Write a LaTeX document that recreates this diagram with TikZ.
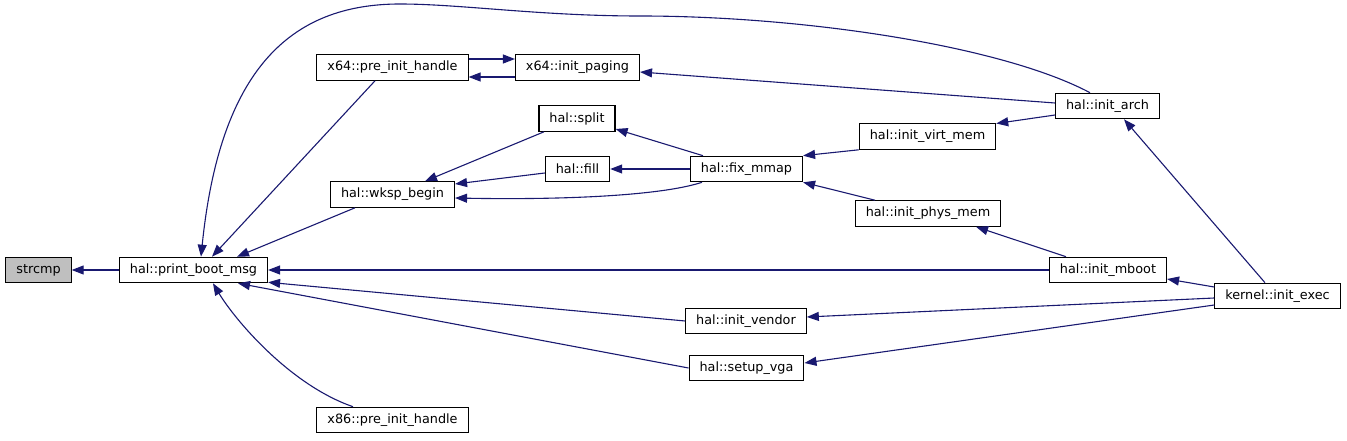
\documentclass[tikz,border=0pt]{standalone}
\usepackage{fontspec}
\setmainfont{DejaVu Sans}
\usepackage{tikz}
\usetikzlibrary{arrows.meta}
\definecolor{edge}{HTML}{191970}
\definecolor{cgray}{HTML}{BFBFBF}

\begin{document}
\begin{tikzpicture}[x=1pt, y=-1pt, font=\fontsize{12.8}{15}\selectfont,
          fn/.style={draw=black, fill=white, line width=1.1pt, inner xsep=10.5pt,
                     inner ysep=0pt, minimum height=25.5pt},
          e/.style={edge, line width=1.1pt, -{Triangle[length=12pt, width=9pt]}}]
        \useasboundingbox (0,0) rectangle (1347,441);
        \node[fn, fill=cgray] (strcmp) at (38.5,270) {strcmp};
        \node[fn] (pbm) at (193.5,270) {hal::print\_boot\_msg};
        \node[fn] (pih64) at (392.5,67.5) {x64::pre\_init\_handle};
        \node[fn] (paging) at (577.5,67.5) {x64::init\_paging};
        \node[fn] (split) at (577,118.5) {hal::split};
        \node[fn] (halfill) at (577.5,169) {hal::fill};
        \node[fn] (wksp) at (392.5,194.5) {hal::wksp\_begin};
        \node[fn] (fixmmap) at (746.5,169) {hal::fix\_mmap};
        \node[fn] (virtmem) at (927.5,136.5) {hal::init\_virt\_mem};
        \node[fn] (physmem) at (928,213.5) {hal::init\_phys\_mem};
        \node[fn] (arch) at (1107.5,106) {hal::init\_arch};
        \node[fn] (mboot) at (1108,270) {hal::init\_mboot};
        \node[fn] (exec) at (1277.5,296) {kernel::init\_exec};
        \node[fn] (vendor) at (746,321) {hal::init\_vendor};
        \node[fn] (vga) at (746.5,368) {hal::setup\_vga};
        \node[fn] (pih86) at (392.5,420) {x86::pre\_init\_handle};
        \draw[e] (pbm.west) -- (strcmp.east);
        \draw[e] ([xshift=-17.5pt]pih64.south) -- ([xshift=18.5pt]pbm.north);
        \draw[e] ([xshift=-17.5pt]arch.north) .. controls (1000,45) and (800,16) .. (640,16)
          .. controls (540,16) and (460,4) .. (400,4)
          .. controls (290,4) and (220,70) .. ([xshift=7.5pt]pbm.north);
        \draw[e] ([xshift=-37.5pt]wksp.south) -- ([xshift=43.5pt]pbm.north);
        \draw[e] (mboot.west) -- (pbm.east);
        \draw[e] (vendor.west) -- ([yshift=1pt]pbm.south east);
        \draw[e] (vga.west) -- ([xshift=44.5pt]pbm.south);
        \draw[e] ([xshift=-39.5pt]pih86.north) .. controls (290,385) and (235,320) .. ([xshift=19.5pt]pbm.south);
        \draw[e] ([yshift=8.5pt]pih64.east) -- ([yshift=8.5pt]paging.west);
        \draw[e] ([yshift=-9.5pt]paging.west) -- ([yshift=-9.5pt]pih64.east);
        \draw[e] ([yshift=3pt]arch.west) -- ([yshift=-4.5pt]paging.east);
        \draw[e] ([xshift=-33pt]split.south) -- ([xshift=32.5pt]wksp.north);
        \draw[e] ([yshift=-4pt]halfill.west) -- ([yshift=10.5pt]wksp.east);
        \draw[e] ([xshift=-44.5pt]fixmmap.south) .. controls (660,196) and (560,200) .. ([yshift=-3.5pt]wksp.east);
        \draw[e] ([xshift=-43.5pt]fixmmap.north) -- ([yshift=-10.5pt]split.east);
        \draw[e] (fixmmap.west) -- (halfill.east);
        \draw[e] (virtmem.south west) -- (fixmmap.north east);
        \draw[e] ([xshift=-53pt]physmem.north) -- (fixmmap.south east);
        \draw[e] ([yshift=-9pt]arch.west) -- ([yshift=13pt]virtmem.east);
        \draw[e] ([xshift=-42pt]mboot.north) -- ([xshift=48pt]physmem.south);
        \draw[e] ([xshift=-12.5pt]exec.north) -- ([xshift=16.5pt]arch.south);
        \draw[e] ([yshift=9pt]exec.west) -- ([yshift=-9pt]mboot.east);
        \draw[e] ([yshift=-2pt]exec.west) -- ([yshift=4pt]vendor.east);
        \draw[e] ([yshift=-9pt]exec.west) -- ([yshift=5pt]vga.east);
      \end{tikzpicture}
\end{document}
